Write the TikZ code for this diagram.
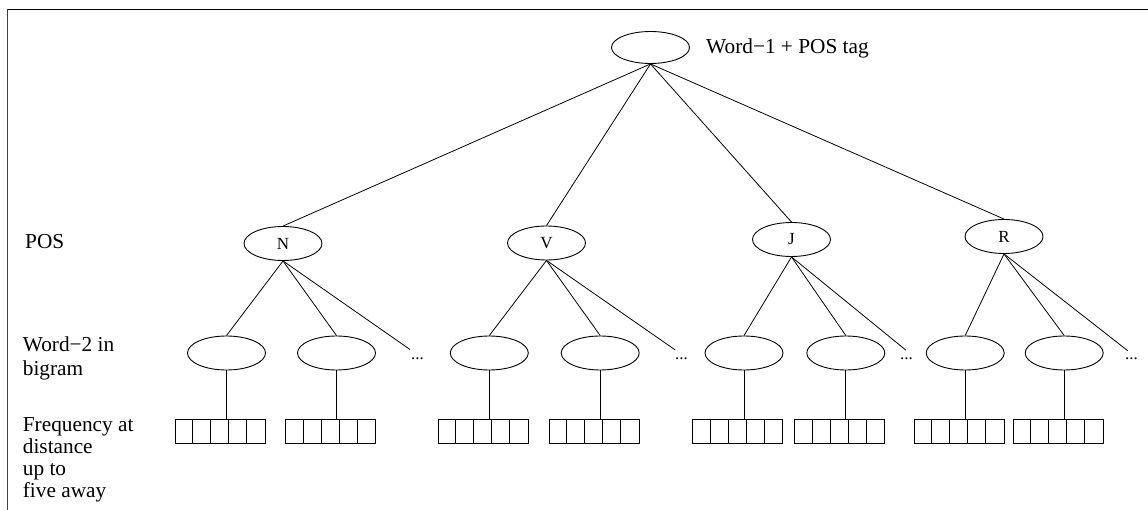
\documentclass[tikz,border=0pt]{standalone}
\usepackage{fontspec}
\setmainfont{Liberation Serif}
\usetikzlibrary{shapes.geometric}
\begin{document}
\begin{tikzpicture}[x=1pt,y=-1pt,
  lbl/.style={font=\fontsize{21.3}{24}\selectfont, inner sep=0pt, anchor=base west},
  ell/.style={draw, ellipse, line width=0.9pt, minimum width=78pt, minimum height=34pt, inner sep=0pt, font=\fontsize{17}{18}\selectfont},
  cellrow/.style={draw, rectangle, line width=0.9pt, minimum width=90pt, minimum height=24pt, inner sep=0pt},
  conn/.style={line width=0.8pt},
  dotlbl/.style={font=\fontsize{17}{18}\selectfont, inner sep=0pt, anchor=base west},
  frameline/.style={line width=1.3pt}]
\useasboundingbox (0,0) rectangle (1148,510);
% frame
\coordinate (fa) at (7.5,510);
\coordinate (fb) at (7.5,9.3);
\coordinate (fc) at (1148,9.3);
\draw[frameline, draw=black!75] (fa) -- (fb);
\draw[frameline] (fb) -- (fc);

% root
\node[ell, minimum height=32pt] (root) at (650.5,47.5) {};
\node[lbl] (roottxt) at (706,54) {Word−1 + POS tag};

% POS level
\node[ell] (N) at (283,243.5) {N};
\node[ell] (V) at (546.5,243) {V};
\node[ell] (J) at (791.5,239.5) {J};
\node[ell] (R) at (1004,236.5) {R};

% children
\node[ell] (N1) at (226.5,353) {};
\node[ell] (N2) at (336.5,353) {};
\node[ell] (V1) at (489.3,353) {};
\node[ell] (V2) at (600.2,353) {};
\node[ell] (J1) at (744,353) {};
\node[ell] (J2) at (845.8,353) {};
\node[ell] (R1) at (965.2,353) {};
\node[ell] (R2) at (1064.2,353) {};

% dots
\coordinate (Ne) at (410,349.5);
\coordinate (Ve) at (675.3,350);
\coordinate (Je) at (905.7,350);
\coordinate (Re) at (1127.7,350.7);
\node[dotlbl] (Nd) at (411,359.5) {...};
\node[dotlbl] (Vd) at (675,359.5) {...};
\node[dotlbl] (Jd) at (900,359.5) {...};
\node[dotlbl] (Rd) at (1125,359.5) {...};

% box rows
\foreach \n/\x in {Nb1/220, Nb2/330.7, Vb1/483.3, Vb2/594.3, Jb1/737.7, Jb2/839.7, Rb1/959.3, Rb2/1058.3}{
  \node[cellrow] (\n) at (\x,431.3) {};
  \foreach \i in {1,...,4}
    \draw[line width=0.9pt] ([xshift=18*\i pt]\n.north west) -- ([xshift=18*\i pt]\n.south west);
}

% connectors root -> POS
\foreach \p in {N,V,J,R}
  \draw[conn] (root.south) -- (\p.north);

% POS -> children
\foreach \p in {N,V,J,R}{
  \draw[conn] (\p.south) -- (\p1.north);
  \draw[conn] (\p.south) -- (\p2.north);
  \draw[conn] (\p.south) -- (\p e);
}

% children -> boxes
\foreach \c/\b in {N1/Nb1, N2/Nb2, V1/Vb1, V2/Vb2, J1/Jb1, J2/Jb2, R1/Rb1, R2/Rb2}
  \draw[conn] (\c.south) -- (\c.south |- \b.north);

% left labels
\node[lbl] (lpos) at (25,249) {POS};
\node[lbl] (lw1) at (22.7,352) {Word−2 in};
\node[lbl] (lw2) at (22.7,375) {bigram};
\node[lbl] (lf1) at (22.7,431) {Frequency at};
\node[lbl] (lf2) at (22.7,453) {distance};
\node[lbl] (lf3) at (22.7,475) {up to};
\node[lbl] (lf4) at (22.7,497) {five away};
\end{tikzpicture}
\end{document}
